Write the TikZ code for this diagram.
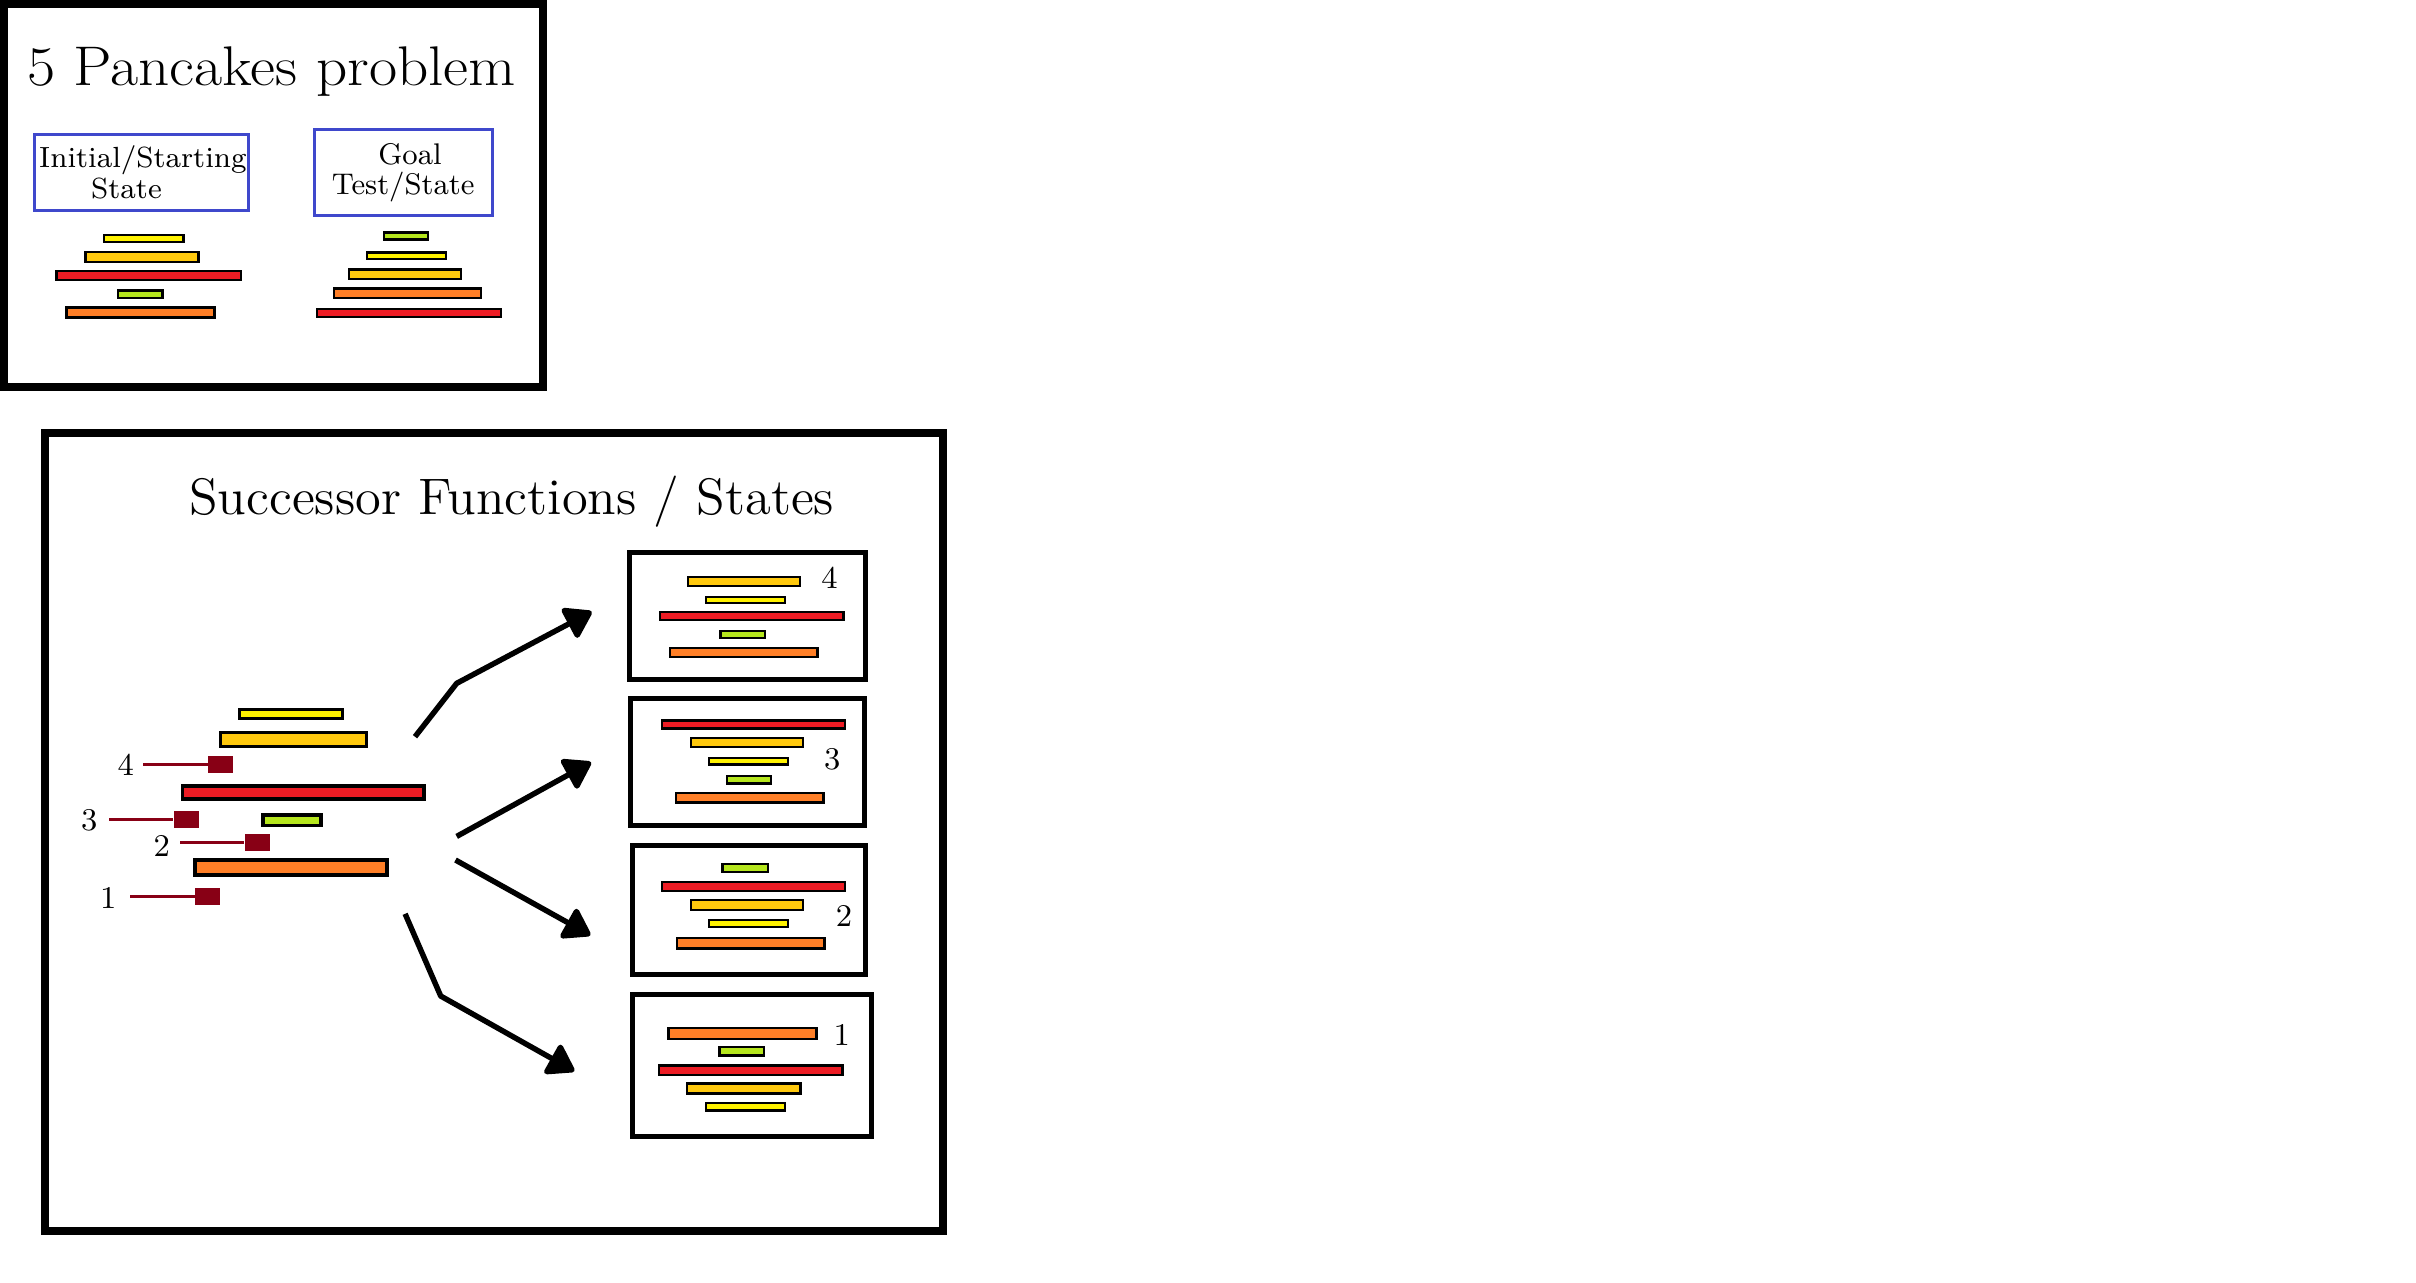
\documentclass[tikz,border=0pt]{standalone}
\usepackage{fontspec}
\usepackage{graphicx}
\usetikzlibrary{arrows.meta}
\definecolor{pyellow}{HTML}{FFF200}
\definecolor{pgold}{HTML}{FFC90E}
\definecolor{pred}{HTML}{ED1C24}
\definecolor{pgreen}{HTML}{B5E61D}
\definecolor{porange}{HTML}{FF7F27}
\definecolor{mred}{HTML}{880015}
\definecolor{boxblue}{HTML}{3F48CC}
% #1 style, #2 inset, #3 colour, #4 x1, #5 x2, #6 y1, #7 y2
\newcommand{\pan}[7]{\draw[#1, fill=#3] ({#4+#2},{#6+#2}) rectangle ({#5-#2},{#7-#2});}
\begin{document}
\begin{tikzpicture}[x=0.1mm,y=-0.1mm,
  frame/.style={draw=black, line width=2.2pt, inner sep=0pt},
  bluebox/.style={draw=boxblue, line width=0.8pt, inner sep=0pt},
  sbox/.style={draw=black, line width=1.42pt, inner sep=0pt},
  lbl/.style={inner sep=0pt, anchor=base},
  pkA/.style={draw=black, line width=0.68pt},
  pkB/.style={draw=black, line width=0.94pt},
  pkC/.style={draw=black, line width=0.65pt},
  marker/.style={fill=mred, inner sep=0pt, minimum width=2.44mm, minimum height=1.67mm},
  mline/.style={draw=mred, line width=0.77pt},
  arr/.style={line width=1.55pt, line join=round, -{Triangle[length=8.2pt,width=10.4pt,round]}}]
\useasboundingbox (0,0) rectangle (2416,1282);

% ---------- top frame ----------
\node[frame, minimum width=53.87mm, minimum height=38.3mm] (topframe) at (273.35,195.5) {};
\node[lbl, font=\fontsize{15.9}{19}\selectfont] (title1) at (271.5,85.2) {\scalebox{1.095}[1]{5 Pancakes problem}};

\node[bluebox, minimum width=21.44mm, minimum height=7.54mm] (initbox) at (141.5,172.4) {};
\node[lbl, font=\fontsize{8.3}{10}\selectfont] (initA) at (142.9,167.8) {Initial/Starting};
\node[lbl, font=\fontsize{8.3}{10}\selectfont] (initB) at (126.5,198.2) {State};

\node[bluebox, minimum width=17.8mm, minimum height=8.58mm] (goalbox) at (403.7,172.3) {};
\node[lbl, font=\fontsize{8.5}{10}\selectfont] (goalA) at (410,164.8) {Goal};
\node[lbl, font=\fontsize{8.5}{10}\selectfont] (goalB) at (403.2,194.5) {Test/State};

% initial stack
\pan{pkA}{1.2}{pyellow}{102.5}{184.7}{233.9}{243}
\pan{pkA}{1.2}{pgold}{84.3}{199.7}{251}{263.4}
\pan{pkA}{1.2}{pred}{55.4}{241.9}{270}{281.1}
\pan{pkA}{1.2}{pgreen}{116.5}{163.6}{289.1}{299.1}
\pan{pkA}{1.2}{porange}{65.4}{215.8}{306.1}{318.5}
% goal stack
\pan{pkA}{1.2}{pgreen}{382.7}{429.5}{231.3}{240.6}
\pan{pkA}{1.2}{pyellow}{365.5}{447.3}{251.3}{260}
\pan{pkA}{1.2}{pgold}{347.7}{462.3}{268.4}{280.1}
\pan{pkA}{1.2}{porange}{332.6}{482.4}{287.4}{299.1}
\pan{pkA}{1.2}{pred}{315.5}{502}{307.5}{318.2}

% ---------- successor frame ----------
\node[frame, minimum width=89.8mm, minimum height=79.8mm] (succframe) at (494,832) {};
\node[lbl, font=\fontsize{14.6}{17}\selectfont] (title2) at (511.7,514.2) {\scalebox{1.024}[1]{Successor Functions / States}};

% left stack
\pan{pkB}{1.65}{pyellow}{237.7}{344.3}{707.7}{720}
\pan{pkB}{1.65}{pgold}{218.7}{368.3}{730.7}{748.3}
\pan{pkB}{1.65}{pred}{181}{425.7}{784.3}{800.7}
\pan{pkB}{1.65}{pgreen}{261.3}{322.7}{813.3}{827.3}
\pan{pkB}{1.65}{porange}{193.3}{388.7}{858.3}{876.7}

% flip markers
\node[marker] (m4) at (220.5,764.35) {};
\node[marker] (m3) at (186.35,819.35) {};
\node[marker] (m2) at (257.35,842.35) {};
\node[marker] (m1) at (207.5,896.35) {};
\coordinate (m4s) at (143.3,764.35);
\coordinate (m3s) at (109.3,819.35);
\coordinate (m2s) at (180,842.35);
\coordinate (m1s) at (130,896.35);
\draw[mline] (m4s) -- (m4.west);
\draw[mline] (m3s) -- (m3.west);
\draw[mline] (m2s) -- (m2.west);
\draw[mline] (m1s) -- (m1.west);
\node[lbl, font=\fontsize{9}{11}\selectfont] (l4) at (125.8,775.7) {4};
\node[lbl, font=\fontsize{9}{11}\selectfont] (l3) at (89.3,830.7) {3};
\node[lbl, font=\fontsize{9}{11}\selectfont] (l2) at (161.7,856) {2};
\node[lbl, font=\fontsize{9}{11}\selectfont] (l1) at (108.2,908.3) {1};

% arrows
\coordinate (a1s) at (415,736.7);
\coordinate (a1m) at (456.7,683.3);
\coordinate (a1t) at (591.7,611.7);
\coordinate (a2s) at (456.7,836.4);
\coordinate (a2t) at (591,762.3);
\coordinate (a3s) at (455.5,860);
\coordinate (a3t) at (590.4,935.2);
\coordinate (a4s) at (405.1,913.8);
\coordinate (a4m) at (440.7,996);
\coordinate (a4t) at (574.3,1071.1);
\draw[arr] (a1s) -- (a1m) -- (a1t);
\draw[arr] (a2s) -- (a2t);
\draw[arr] (a3s) -- (a3t);
\draw[arr] (a4s) -- (a4m) -- (a4t);

% successor state boxes
\node[sbox, minimum width=23.55mm, minimum height=12.66mm] (b4) at (747.45,615.9) {};
\node[sbox, minimum width=23.31mm, minimum height=12.71mm] (b3) at (747.45,761.75) {};
\node[sbox, minimum width=23.37mm, minimum height=12.93mm] (b2) at (748.95,910.05) {};
\node[sbox, minimum width=23.91mm, minimum height=14.27mm] (b1) at (751.65,1065.45) {};

% box 4
\pan{pkC}{1.15}{pgold}{686.9}{801.3}{575.9}{587.3}
\pan{pkC}{1.15}{pyellow}{704.5}{786.4}{595.7}{604.4}
\pan{pkC}{1.15}{pred}{658.7}{844.5}{610.7}{621.4}
\pan{pkC}{1.15}{pgreen}{719.4}{766.5}{630.1}{639.2}
\pan{pkC}{1.15}{porange}{668.7}{818.6}{646.8}{658.3}
\node[lbl, font=\fontsize{9}{11}\selectfont] (n4) at (829.5,588.5) {4};
% box 3
\pan{pkC}{1.15}{pred}{660.7}{846.1}{719.3}{729.6}
\pan{pkC}{1.15}{pgold}{689.6}{804.3}{736.7}{748.2}
\pan{pkC}{1.15}{pyellow}{707.5}{789.4}{756.5}{765.6}
\pan{pkC}{1.15}{pgreen}{725.7}{772.5}{774.7}{784.6}
\pan{pkC}{1.15}{porange}{674.6}{824.6}{791.8}{803.7}
\node[lbl, font=\fontsize{9}{11}\selectfont] (n3) at (832.2,769.6) {3};
% box 2
\pan{pkC}{1.15}{pgreen}{721.4}{768.8}{862.7}{873}
\pan{pkC}{1.15}{pred}{660.7}{846.1}{880.5}{892}
\pan{pkC}{1.15}{pgold}{689.6}{804.3}{898.8}{911.1}
\pan{pkC}{1.15}{pyellow}{707.5}{789.4}{918.6}{928.1}
\pan{pkC}{1.15}{porange}{676}{825.6}{936.8}{949.5}
\node[lbl, font=\fontsize{9}{11}\selectfont] (n2) at (844,926.5) {2};
% box 1
\pan{pkC}{1.15}{porange}{667.3}{817.6}{1027.1}{1039.8}
\pan{pkC}{1.15}{pgreen}{718.4}{765.5}{1045.8}{1056.5}
\pan{pkC}{1.15}{pred}{657.7}{843.5}{1064.4}{1076.3}
\pan{pkC}{1.15}{pgold}{686.2}{801.7}{1082.2}{1094.5}
\pan{pkC}{1.15}{pyellow}{704.5}{786.4}{1101.6}{1111.5}
\node[lbl, font=\fontsize{9}{11}\selectfont] (n1) at (841.7,1045.4) {1};
\end{tikzpicture}
\end{document}
